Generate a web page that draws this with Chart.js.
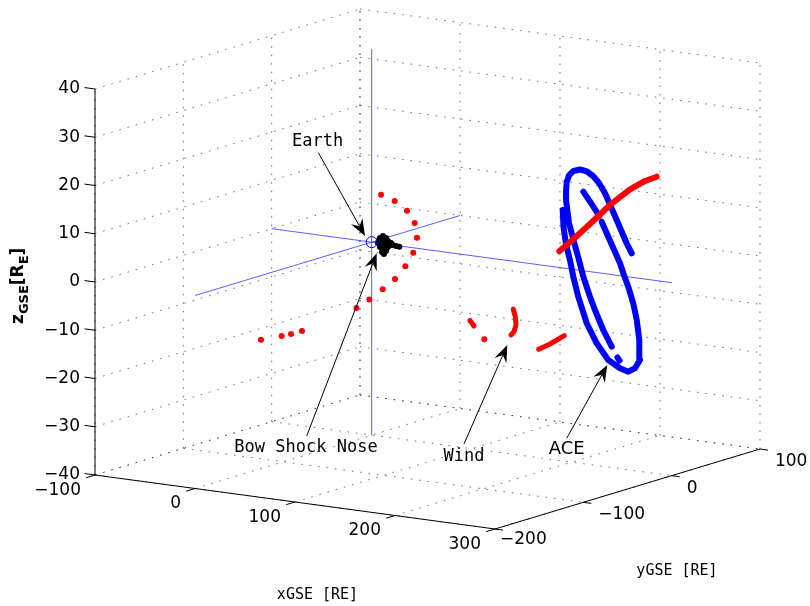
<!DOCTYPE html>
<html>
<head>
<meta charset="utf-8">
<script src="https://cdn.jsdelivr.net/npm/chart.js@4.4.1/dist/chart.umd.min.js"></script>
<style>
  html, body { margin: 0; padding: 0; background: #fff; }
</style>
</head>
<body>
<canvas id="orbitas" width="810" height="606"></canvas>
<script>
// Marcas de los ejes (RE)
const ticksX = [-100, 0, 100, 200, 300];
const ticksY = [-200, -100, 0, 100];
const ticksZ = [-40, -30, -20, -10, 0, 10, 20, 30, 40];

// Posición de la Tierra [x, y, z] en GSE
const tierra = [0, 0, 0];

// Nariz del bow shock (puntos negros)
const bowShock = [
    [13, -5.3, 1.52], [13, -1.9, 1.75], [13, 1.5, 1.15], [13, 3.8, 0.40], [13, 7.2, -0.21],
    [13, 9.4, -0.74], [13, 0.4, -0.04], [13, -4.2, 0.63], [13, -7.6, 0.61], [13, -5.3, -0.34],
    [13, -1.9, -0.95], [13, -3.0, -1.51], [13, -0.8, -2.04], [13, 2.6, -0.99], [13, 4.9, -0.70],
    [13, 1.5, -1.55], [13, -6.4, 1.17], [13, -0.8, 0.86], [13, 12.8, -1.14], [13, 16.6, -1.49]
];

// Wind: posiciones sueltas
const windPuntos = [
    [0, 10.6, 9.25], [0, 26.1, 7.09], [0, 40.0, 4.31], [0, 48.7, 1.28], [0, 51.3, -1.91],
    [0, 47.1, -4.79], [0, 38.1, -7.11], [0, 26.4, -9.09], [0, 12.5, -10.46], [0, -2.7, -11.73],
    [0, -17.2, -12.69], [0, -78.9, -14.05], [0, -91.3, -13.99], [0, -101.9, -13.81],
    [0, -125.3, -13.29], [150, -42.3, -13.6]
];
// Wind: tramos continuos
const windTramo1 = [[150, -58.5, -8.8], [150, -54.0, -10.19]];
const windTramo2 = [[150, -9.5, -9.19], [150, -7.2, -10.85], [150, -6.4, -12.62], [150, -8.7, -13.88], [150, -12.1, -14.37]];
const windTramo3 = [[150, 19.3, -19.07], [150, 32.1, -18.68], [150, 48.3, -17.86]];
const windTramo4 = [
    [230, -48.0, 7.2], [230, -32.1, 8.8], [230, -13.2, 10.93], [230, 9.4, 13.62],
    [230, 32.1, 15.58], [230, 49.1, 16.4], [230, 62.3, 16.56]
];

// ACE: órbita alrededor de L1
const aceTramo1 = [
    [230, -44.1, 15.54], [230, -43.2, 11.97], [230, -40.4, 8.29], [230, -35.9, 4.72], [230, -32.1, 1.05],
    [230, -26.5, -3.40], [230, -16.9, -9.44], [230, -5.6, -14.22], [230, 7.5, -18.40], [230, 20.8, -20.86],
    [230, 30.1, -22.07], [230, 37.7, -21.79], [230, 43.4, -20.38], [230, 42.6, -16.19], [230, 39.7, -11.89],
    [230, 35.8, -8.21], [230, 30.1, -4.46], [230, 24.5, -1.37], [230, 20.8, 0.91], [230, 10.6, 5.68],
    [230, 0.0, 10.68]
];
const aceTramo2 = [[230, -2.7, 12.01], [230, -12.1, 15.22], [230, -20.8, 18.05]];
const aceTramo3 = [
    [230, 34.0, 2.25], [230, 28.3, 4.64], [230, 17.0, 10.09], [230, 3.8, 16.35], [230, -3.0, 18.86],
    [230, -9.8, 20.69], [230, -16.6, 22.0], [230, -24.5, 22.85], [230, -31.9, 22.95], [230, -37.0, 22.30],
    [230, -39.6, 21.09], [230, -40.4, 19.06], [230, -40.4, 17.41], [230, -37.0, 12.45], [230, -31.3, 8.20],
    [230, -25.7, 4.16], [230, -20.8, 0.43], [230, -13.2, -4.14], [230, -7.6, -7.20], [230, 1.8, -11.87],
    [230, 11.4, -15.86]
];
const aceTramo4 = [[230, 17.9, -18.46], [230, 20.2, -19.2]];

// Proyección de la vista 3D (píxeles)
const ORIGEN = { x: 95, y: 475 };          // esquina (-100, -200, -40)
const EJE_X = { x: 1.0, y: 0.135 };        // por unidad de x
const EJE_Y = { x: 0.8833, y: -0.2667 };   // por unidad de y
const EJE_Z = { x: 0, y: -4.825 };         // por unidad de z
const minX = ticksX[0], maxX = ticksX[ticksX.length - 1];
const minY = ticksY[0], maxY = ticksY[ticksY.length - 1];
const minZ = ticksZ[0], maxZ = ticksZ[ticksZ.length - 1];

function proyectar(p) {
    const dx = p[0] - minX, dy = p[1] - minY, dz = p[2] - minZ;
    return {
        x: ORIGEN.x + dx * EJE_X.x + dy * EJE_Y.x + dz * EJE_Z.x,
        y: ORIGEN.y + dx * EJE_X.y + dy * EJE_Y.y + dz * EJE_Z.y
    };
}

// Convierte una lista de tramos en puntos con cortes entre tramos
function aPuntos(tramos) {
    const pts = [];
    tramos.forEach((tramo, i) => {
        if (i > 0) pts.push({ x: null, y: null });
        tramo.forEach(p => pts.push(proyectar(p)));
    });
    return pts;
}

// Rejilla punteada en las tres caras del fondo
const rejilla = [];
ticksZ.forEach(z => {
    rejilla.push([[minX, minY, z], [minX, maxY, z]]);
    rejilla.push([[minX, maxY, z], [maxX, maxY, z]]);
});
ticksY.forEach(y => {
    rejilla.push([[minX, y, minZ], [minX, y, maxZ]]);
    rejilla.push([[minX, y, minZ], [maxX, y, minZ]]);
});
ticksX.forEach(x => {
    rejilla.push([[x, maxY, minZ], [x, maxY, maxZ]]);
    rejilla.push([[x, minY, minZ], [x, maxY, minZ]]);
});

// Ejes sólidos y sus marcas
const ejes = [
    [[minX, minY, minZ], [minX, minY, maxZ]],
    [[minX, minY, minZ], [maxX, minY, minZ]],
    [[maxX, minY, minZ], [maxX, maxY, minZ]]
];
ticksZ.forEach(z => ejes.push([[minX, minY, z], [minX - 10.5, minY, z]]));
ticksX.forEach(x => ejes.push([[x, minY, minZ], [x, minY - 10, minZ]]));
ticksY.forEach(y => ejes.push([[maxX, y, minZ], [maxX + 8, y, minZ]]));

// Ejes GSE que pasan por la Tierra
const ejesGSE = [
    [[minX, tierra[1], tierra[2]], [maxX, tierra[1], tierra[2]]],
    [[tierra[0], minY, tierra[2]], [tierra[0], maxY, tierra[2]]],
    [[tierra[0], tierra[1], minZ], [tierra[0], tierra[1], maxZ]]
];

function linea(puntos, color, ancho, orden, extra) {
    return Object.assign({
        data: puntos, showLine: true, spanGaps: false, pointRadius: 0,
        borderColor: color, borderWidth: ancho, order: orden, tension: 0
    }, extra || {});
}
function nube(puntos, color, radio, orden) {
    return {
        data: puntos, showLine: false, pointRadius: radio, pointBackgroundColor: color,
        pointBorderWidth: 0, pointBorderColor: color, order: orden
    };
}

const ROJO = '#ff0000';
const AZUL = '#0000ff';
const trazoGrueso = { borderCapStyle: 'round', borderJoinStyle: 'round' };

const datasets = [
    // Tierra
    {
        data: [proyectar(tierra)], showLine: false, pointRadius: 5.5, pointStyle: 'circle',
        pointBackgroundColor: 'rgba(0,0,0,0)', pointBorderColor: AZUL, pointBorderWidth: 1, order: 0
    },
    nube(bowShock.map(proyectar), '#000000', 3, 1),
    linea(aPuntos([windTramo4]), ROJO, 6, 2, trazoGrueso),
    linea(aPuntos([windTramo1, windTramo2, windTramo3]), ROJO, 5, 3, trazoGrueso),
    nube(windPuntos.map(proyectar), ROJO, 3, 3),
    linea(aPuntos([aceTramo1, aceTramo2, aceTramo3, aceTramo4]), AZUL, 6, 4, trazoGrueso),
    linea(aPuntos(ejesGSE), 'rgba(40,40,255,0.75)', 1, 6),
    linea(aPuntos(ejes), '#000000', 1, 7),
    linea(aPuntos(rejilla), 'rgba(60,60,60,0.75)', 1, 8, { borderDash: [1.5, 7] })
];

// Flechas de anotación: punta en coordenadas GSE, cola y texto en píxeles relativos
const anotaciones = [
    { texto: 'Earth', punta: [0, -7.5, 1.7], cola: [-46.7, -83.3], rotulo: [-0.8, -11], fuente: '17px "DejaVu Sans Mono"' },
    { texto: 'Bow Shock Nose', punta: [13, -9.0, -1.44], cola: [-70, 182.7], rotulo: [-0.7, 12], fuente: '17px "DejaVu Sans Mono"' },
    { texto: 'Wind', punta: [150, -16.3, -16.21], cola: [-43.3, 99], rotulo: [0, 12.5], fuente: '17px "DejaVu Sans Mono"' },
    { texto: 'ACE', punta: [230, 6.4, -19.38], cola: [-40.6, 73.3], rotulo: [0, 11], fuente: '18px "DejaVu Sans"' }
];

function dibujarFlecha(ctx, cola, punta) {
    const dx = punta.x - cola.x, dy = punta.y - cola.y;
    const largo = Math.hypot(dx, dy);
    const ux = dx / largo, uy = dy / largo;
    const nx = -uy, ny = ux;
    const base = { x: punta.x - 17 * ux, y: punta.y - 17 * uy };
    const muesca = { x: punta.x - 11 * ux, y: punta.y - 11 * uy };
    ctx.beginPath();
    ctx.moveTo(cola.x, cola.y);
    ctx.lineTo(muesca.x, muesca.y);
    ctx.strokeStyle = '#000';
    ctx.lineWidth = 1;
    ctx.stroke();
    ctx.beginPath();
    ctx.moveTo(punta.x, punta.y);
    ctx.lineTo(base.x + 6.5 * nx, base.y + 6.5 * ny);
    ctx.lineTo(muesca.x, muesca.y);
    ctx.lineTo(base.x - 6.5 * nx, base.y - 6.5 * ny);
    ctx.closePath();
    ctx.fillStyle = '#000';
    ctx.fill();
}

const MENOS = '\u2212';
const fmt = v => (v < 0 ? MENOS + Math.abs(v) : String(v));

// Plugin para rótulos de ejes, etiquetas y flechas
const rotulos = {
    id: 'rotulos',
    afterDatasetsDraw(chart) {
        const ctx = chart.ctx;
        const sx = chart.scales.x, sy = chart.scales.y;
        const aPixel = p => {
            const q = proyectar(p);
            return { x: sx.getPixelForValue(q.x), y: sy.getPixelForValue(q.y) };
        };
        ctx.save();
        ctx.fillStyle = '#000';
        ctx.font = '17px "DejaVu Sans"';
        ctx.textBaseline = 'middle';

        // Eje z
        ctx.textAlign = 'right';
        ticksZ.forEach(z => {
            const p = aPixel([minX, minY, z]);
            ctx.fillText(fmt(z), p.x - 15, p.y);
        });
        // Eje x
        ticksX.forEach(x => {
            const p = aPixel([x, minY, minZ]);
            ctx.fillText(fmt(x), p.x - 14, p.y + 15.5);
        });
        // Eje y
        ctx.textAlign = 'left';
        ticksY.forEach((y, i) => {
            const p = aPixel([maxX, y, minZ]);
            ctx.fillText(fmt(y), p.x + (i === 0 ? 5 : 15), p.y + (i === 0 ? 11 : 12.5));
        });

        // Títulos de ejes
        ctx.textAlign = 'center';
        ctx.font = '15px "DejaVu Sans Mono"';
        ctx.fillText('xGSE [RE]', 317.5, 595);
        ctx.fillText('yGSE [RE]', 677, 571);

        // Título del eje z con subíndices, girado
        ctx.save();
        ctx.translate(23, 324);
        ctx.rotate(-Math.PI / 2);
        ctx.textAlign = 'left';
        ctx.textBaseline = 'alphabetic';
        const partes = [
            { t: 'z', f: 'bold 17px "DejaVu Sans"', d: 0 },
            { t: 'GSE', f: 'bold 13px "DejaVu Sans"', d: 5 },
            { t: '[R', f: 'bold 17px "DejaVu Sans"', d: 0 },
            { t: 'E', f: 'bold 13px "DejaVu Sans"', d: 5 },
            { t: ']', f: 'bold 17px "DejaVu Sans"', d: 0 }
        ];
        let avance = 0;
        partes.forEach(pt => {
            ctx.font = pt.f;
            ctx.fillText(pt.t, avance, pt.d);
            avance += ctx.measureText(pt.t).width;
        });
        ctx.restore();

        // Anotaciones
        anotaciones.forEach(a => {
            const punta = aPixel(a.punta);
            const cola = { x: punta.x + a.cola[0], y: punta.y + a.cola[1] };
            dibujarFlecha(ctx, cola, punta);
            ctx.font = a.fuente;
            ctx.textAlign = 'center';
            ctx.textBaseline = 'middle';
            ctx.fillStyle = '#000';
            ctx.fillText(a.texto, cola.x + a.rotulo[0], cola.y + a.rotulo[1]);
        });
        ctx.restore();
    }
};

document.addEventListener('DOMContentLoaded', () => {
    const ctx = document.getElementById('orbitas').getContext('2d');
    new Chart(ctx, {
        type: 'scatter',
        data: { datasets },
        options: {
            responsive: false,
            animation: false,
            events: [],
            layout: { autoPadding: false, padding: 0 },
            plugins: { legend: { display: false }, tooltip: { enabled: false } },
            scales: {
                x: { type: 'linear', min: 0, max: 810, display: false },
                y: { type: 'linear', min: 0, max: 606, reverse: true, display: false }
            }
        },
        plugins: [rotulos]
    });
});
</script>
</body>
</html>
